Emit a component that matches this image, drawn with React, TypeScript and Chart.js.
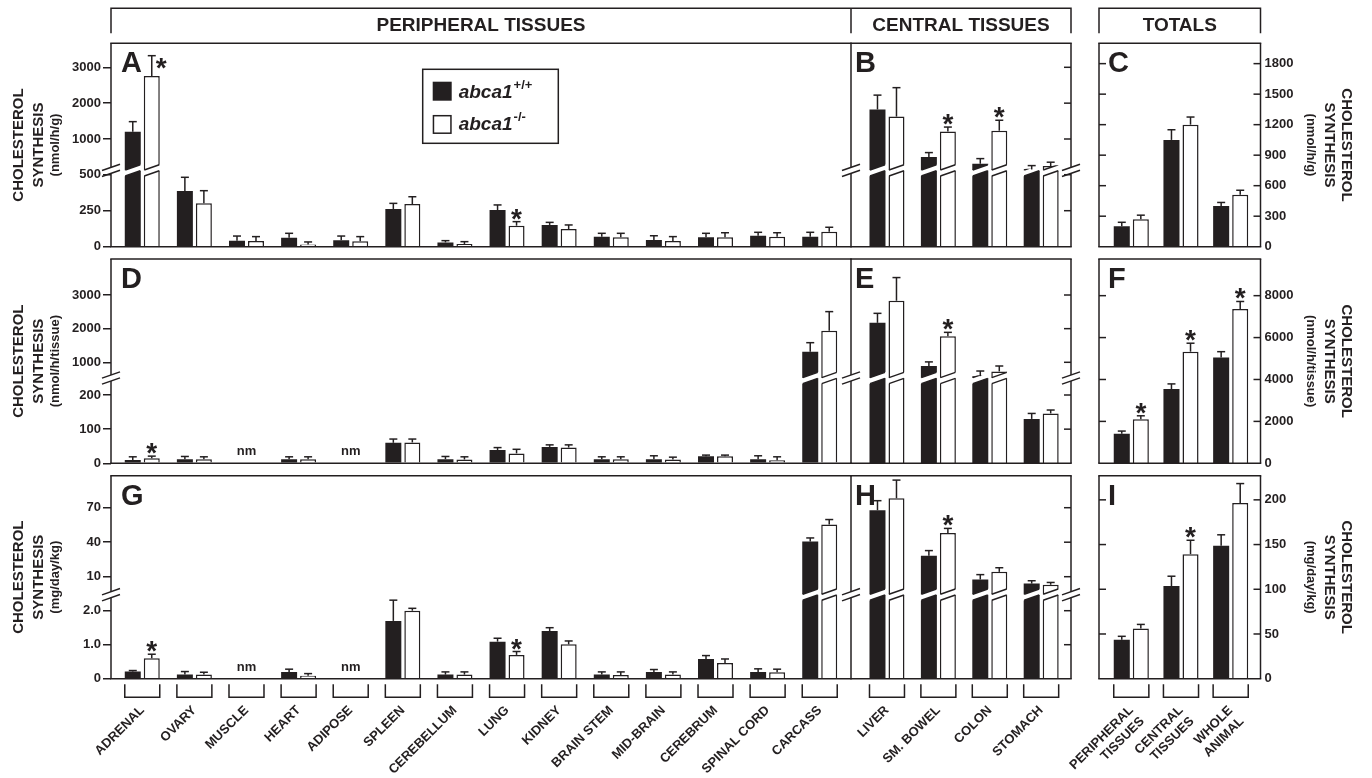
import React, { useEffect, useRef } from 'react';
import { Chart, registerables, LinearScale } from 'chart.js';

Chart.register(...registerables);

// ---------------- categories ----------------
const PERIPHERAL = ['ADRENAL', 'OVARY', 'MUSCLE', 'HEART', 'ADIPOSE', 'SPLEEN', 'CEREBELLUM', 'LUNG', 'KIDNEY', 'BRAIN STEM', 'MID-BRAIN', 'CEREBRUM', 'SPINAL CORD', 'CARCASS'];
const CENTRAL = ['LIVER', 'SM. BOWEL', 'COLON', 'STOMACH'];
const TOTALS = [['PERIPHERAL', 'TISSUES'], ['CENTRAL', 'TISSUES'], ['WHOLE', 'ANIMAL']];

// ---------------- series: nmol/h/g ----------------
const A_WT = [1204, 387, 42, 62, 44, 262, 30, 255, 151, 69, 46, 65, 76, 69];
const A_WT_ERR = [280, 95, 32, 31, 30, 39, 12, 35, 18, 24, 30, 28, 24, 31];
const A_KO = [2757, 301, 40, 16, 37, 296, 19, 146, 123, 65, 40, 65, 69, 104];
const A_KO_ERR = [567, 88, 30, 17, 33, 51, 16, 28, 28, 28, 30, 32, 28, 31];
const B_WT = [1824, 498, 310, 150];
const B_WT_ERR = [400, 123, 143, 108];
const B_KO = [1625, 1210, 1231, 245];
const B_KO_ERR = [807, 123, 292, 108];
const C_WT = [200, 1050, 400];
const C_WT_ERR = [40, 100, 35];
const C_KO = [270, 1200, 510];
const C_KO_ERR = [40, 75, 45];

// ---------------- series: nmol/h/tissue ----------------
const D_WT = [10, 12, null, 12, null, 60, 12, 39, 48, 12, 12, 21, 12, 1315];
const D_WT_ERR = [9, 8, 0, 7, 0, 11, 8, 7, 6, 7, 10, 3, 10, 268];
const D_KO = [15, 12, null, 12, null, 61, 11, 29, 46, 12, 11, 21, 9, 1941];
const D_KO_ERR = [6, 7, 0, 7, 0, 10, 8, 12, 8, 7, 7, 3, 10, 565];
const E_WT = [2173, 890, 589, 130];
const E_WT_ERR = [282, 122, 152, 16];
const E_KO = [2830, 1771, 729, 146];
const E_KO_ERR = [688, 119, 161, 10];
const F_WT = [1408, 3546, 5052];
const F_WT_ERR = [130, 243, 275];
const F_KO = [2105, 5327, 7366];
const F_KO_ERR = [162, 404, 357];

// ---------------- series: mg/day/kg ----------------
const G_WT = [0.21, 0.12, null, 0.2, null, 1.7, 0.12, 1.09, 1.4, 0.12, 0.2, 0.58, 0.2, 40.7];
const G_WT_ERR = [0.03, 0.09, 0, 0.08, 0, 0.61, 0.08, 0.1, 0.1, 0.08, 0.07, 0.1, 0.09, 3];
const G_KO = [0.6, 0.12, null, 0.09, null, 2.0, 0.12, 0.7, 1.01, 0.11, 0.12, 0.46, 0.19, 55.4];
const G_KO_ERR = [0.12, 0.07, 0, 0.06, 0, 0.07, 0.08, 0.1, 0.1, 0.09, 0.08, 0.12, 0.09, 4.3];
const H_WT = [67.8, 28.2, 7.6, 4.0];
const H_WT_ERR = [8.3, 4.5, 4.2, 2.5];
const H_KO = [78.2, 47.9, 14.2, 3.0];
const H_KO_ERR = [15.8, 4.1, 3.6, 2.0];
const I_WT = [43.6, 103.6, 148.8];
const I_WT_ERR = [3.8, 11, 12.1];
const I_KO = [56.2, 139.3, 196.6];
const I_KO_ERR = [4.5, 15.5, 21.6];

// ---------------- tick labels ----------------
const AB_TICKS = [0, 250, 500, 1000, 2000, 3000];
const AB_TICK_LABELS = ['0', '250', '500', '1000', '2000', '3000'];
const DE_TICKS = [0, 100, 200, 1000, 2000, 3000];
const DE_TICK_LABELS = ['0', '100', '200', '1000', '2000', '3000'];
const GH_TICKS = [0, 1, 2, 10, 40, 70];
const GH_TICK_LABELS = ['0', '1.0', '2.0', '10', '40', '70'];
const C_TICKS = [0, 300, 600, 900, 1200, 1500, 1800];
const C_TICK_LABELS = ['0', '300', '600', '900', '1200', '1500', '1800'];
const F_TICKS = [0, 2000, 4000, 6000, 8000];
const F_TICK_LABELS = ['0', '2000', '4000', '6000', '8000'];
const I_TICKS = [0, 50, 100, 150, 200];
const I_TICK_LABELS = ['0', '50', '100', '150', '200'];

// significance stars: [series (0 = +/+, 1 = -/-), category]
const A_STARS = [[1, 7]];
const A_STARS_BESIDE = [[1, 0]];
const B_STARS = [[1, 1], [1, 2]];
const D_STARS = [[1, 0]];
const E_STARS = [[1, 1]];
const F_STARS = [[1, 0], [1, 1], [1, 2]];
const G_STARS = [[1, 0], [1, 7]];
const H_STARS = [[1, 1]];
const I_STARS = [[1, 1]];
const NOT_MEASURED = [2, 4];

// ---------------- styling / layout ----------------
const INK = '#231f20';
const FONT = "'Liberation Sans', Arial, Helvetica, sans-serif";
const W = 1372;
const H = 778;
const ROWS = [{ t: 43.3, b: 246.7 }, { t: 259, b: 463.3 }, { t: 475.7, b: 678.7 }];
const COLS = [{ l: 111, r: 851 }, { l: 851, r: 1071 }, { l: 1099, r: 1260.5 }];
const SL = 0.35;
const GAP = 3;

// broken-axis definitions (pixel heights above the baseline for pairs of values)
type Seg = { v0: number; p0: number; v1: number; p1: number };
type AxisDef = { lo: Seg; hi: Seg; split: number; tickSplit: number; breakP: number };
const AB_AXIS_A: AxisDef = { lo: { v0: 0, p0: 0, v1: 500, p1: 72 }, hi: { v0: 1000, p0: 107.7, v1: 3000, p1: 179.4 }, split: 600, tickSplit: 600, breakP: 76.3 };
const AB_AXIS_B: AxisDef = { ...AB_AXIS_A, split: 100 };
const DE_AXIS: AxisDef = { lo: { v0: 0, p0: 0, v1: 200, p1: 68.3 }, hi: { v0: 1000, p0: 101, v1: 3000, p1: 168.3 }, split: 300, tickSplit: 300, breakP: 85.3 };
const GH_AXIS: AxisDef = { lo: { v0: 0, p0: 0, v1: 2, p1: 68 }, hi: { v0: 10, p0: 102, v1: 70, p1: 171 }, split: 2.5, tickSplit: 2.5, breakP: 84 };

const AXES = new WeakMap<HTMLCanvasElement, AxisDef>();
const segPx = (s: Seg, v: number) => s.p0 + (v - s.v0) * (s.p1 - s.p0) / (s.v1 - s.v0);

class BrokenScale extends LinearScale {
  static id = 'broken';
  static defaults = LinearScale.defaults;
  getPixelForValue(value: any) {
    const def = AXES.get((this as any).chart.canvas);
    if (!def || value === null || value === undefined || isNaN(value)) return super.getPixelForValue(value);
    const seg = value > def.split ? def.hi : def.lo;
    return (this as any).bottom - segPx(seg, value);
  }
  getValueForPixel(pixel: number) {
    const def = AXES.get((this as any).chart.canvas);
    if (!def) return super.getValueForPixel(pixel);
    const p = (this as any).bottom - pixel;
    const seg = p > def.breakP ? def.hi : def.lo;
    return seg.v0 + (p - seg.p0) * (seg.v1 - seg.v0) / (seg.p1 - seg.p0);
  }
}
Chart.register(BrokenScale);

type Panel = {
  key: string; row: number; col: number; letter: string; letterDx: number;
  labels: any[]; wt: (number | null)[]; wtErr: number[]; ko: (number | null)[]; koErr: number[];
  xMin: number; xMax: number; catPct: number;
  yPos: 'left' | 'right' | 'none'; ticks: number[]; tickLabels: string[];
  axis?: AxisDef; yMax: number;
  inTicks: string[]; edges: string[]; brokenEdges: string[];
  stars: number[][]; starBeside?: number[][]; nm: number[];
  title?: { side: 'left' | 'right'; unit: string }; legend?: boolean; header?: boolean; showX: boolean;
};

const PANELS: Panel[] = [
  { key: 'A', row: 0, col: 0, letter: 'A', letterDx: 10, labels: PERIPHERAL, wt: A_WT, wtErr: A_WT_ERR, ko: A_KO, koErr: A_KO_ERR, xMin: -0.6, xMax: 13.6, catPct: 0.729, yPos: 'left', ticks: AB_TICKS, tickLabels: AB_TICK_LABELS, axis: AB_AXIS_A, yMax: 3600, inTicks: [], edges: ['top', 'bottom', 'left'], brokenEdges: ['left'], stars: A_STARS, starBeside: A_STARS_BESIDE, nm: [], title: { side: 'left', unit: '(nmol/h/g)' }, legend: true, header: true, showX: false },
  { key: 'B', row: 0, col: 1, letter: 'B', letterDx: 4, labels: CENTRAL, wt: B_WT, wtErr: B_WT_ERR, ko: B_KO, koErr: B_KO_ERR, xMin: -0.7, xMax: 3.58, catPct: 0.739, yPos: 'none', ticks: AB_TICKS, tickLabels: AB_TICK_LABELS, axis: AB_AXIS_B, yMax: 3600, inTicks: ['right'], edges: ['top', 'bottom', 'left', 'right'], brokenEdges: ['left', 'right'], stars: B_STARS, nm: [], showX: false },
  { key: 'C', row: 0, col: 2, letter: 'C', letterDx: 9, labels: TOTALS, wt: C_WT, wtErr: C_WT_ERR, ko: C_KO, koErr: C_KO_ERR, xMin: -0.65, xMax: 2.6, catPct: 0.767, yPos: 'right', ticks: C_TICKS, tickLabels: C_TICK_LABELS, yMax: 2000, inTicks: ['left', 'right'], edges: ['top', 'bottom', 'left', 'right'], brokenEdges: [], stars: [], nm: [], title: { side: 'right', unit: '(nmol/h/g)' }, showX: false },
  { key: 'D', row: 1, col: 0, letter: 'D', letterDx: 10, labels: PERIPHERAL, wt: D_WT, wtErr: D_WT_ERR, ko: D_KO, koErr: D_KO_ERR, xMin: -0.6, xMax: 13.6, catPct: 0.729, yPos: 'left', ticks: DE_TICKS, tickLabels: DE_TICK_LABELS, axis: DE_AXIS, yMax: 4000, inTicks: [], edges: ['top', 'bottom', 'left'], brokenEdges: ['left'], stars: D_STARS, nm: NOT_MEASURED, title: { side: 'left', unit: '(nmol/h/tissue)' }, showX: false },
  { key: 'E', row: 1, col: 1, letter: 'E', letterDx: 4, labels: CENTRAL, wt: E_WT, wtErr: E_WT_ERR, ko: E_KO, koErr: E_KO_ERR, xMin: -0.7, xMax: 3.58, catPct: 0.739, yPos: 'none', ticks: DE_TICKS, tickLabels: DE_TICK_LABELS, axis: DE_AXIS, yMax: 4000, inTicks: ['right'], edges: ['top', 'bottom', 'left', 'right'], brokenEdges: ['left', 'right'], stars: E_STARS, nm: [], showX: false },
  { key: 'F', row: 1, col: 2, letter: 'F', letterDx: 9, labels: TOTALS, wt: F_WT, wtErr: F_WT_ERR, ko: F_KO, koErr: F_KO_ERR, xMin: -0.65, xMax: 2.6, catPct: 0.767, yPos: 'right', ticks: F_TICKS, tickLabels: F_TICK_LABELS, yMax: 9750, inTicks: ['left', 'right'], edges: ['top', 'bottom', 'left', 'right'], brokenEdges: [], stars: F_STARS, nm: [], title: { side: 'right', unit: '(nmol/h/tissue)' }, showX: false },
  { key: 'G', row: 2, col: 0, letter: 'G', letterDx: 10, labels: PERIPHERAL, wt: G_WT, wtErr: G_WT_ERR, ko: G_KO, koErr: G_KO_ERR, xMin: -0.6, xMax: 13.6, catPct: 0.729, yPos: 'left', ticks: GH_TICKS, tickLabels: GH_TICK_LABELS, axis: GH_AXIS, yMax: 90, inTicks: [], edges: ['top', 'bottom', 'left'], brokenEdges: ['left'], stars: G_STARS, nm: NOT_MEASURED, title: { side: 'left', unit: '(mg/day/kg)' }, showX: true },
  { key: 'H', row: 2, col: 1, letter: 'H', letterDx: 4, labels: CENTRAL, wt: H_WT, wtErr: H_WT_ERR, ko: H_KO, koErr: H_KO_ERR, xMin: -0.7, xMax: 3.58, catPct: 0.739, yPos: 'none', ticks: GH_TICKS, tickLabels: GH_TICK_LABELS, axis: GH_AXIS, yMax: 90, inTicks: ['right'], edges: ['top', 'bottom', 'left', 'right'], brokenEdges: ['left', 'right'], stars: H_STARS, nm: [], showX: true },
  { key: 'I', row: 2, col: 2, letter: 'I', letterDx: 9, labels: TOTALS, wt: I_WT, wtErr: I_WT_ERR, ko: I_KO, koErr: I_KO_ERR, xMin: -0.65, xMax: 2.6, catPct: 0.767, yPos: 'right', ticks: I_TICKS, tickLabels: I_TICK_LABELS, yMax: 227, inTicks: ['left', 'right'], edges: ['top', 'bottom', 'left', 'right'], brokenEdges: [], stars: I_STARS, nm: [], title: { side: 'right', unit: '(mg/day/kg)' }, showX: true },
];

function line(ctx: CanvasRenderingContext2D, x0: number, y0: number, x1: number, y1: number) {
  ctx.beginPath();
  ctx.moveTo(x0, y0);
  ctx.lineTo(x1, y1);
  ctx.stroke();
}

function drawStar(ctx: CanvasRenderingContext2D, x: number, baseline: number, align: CanvasTextAlign) {
  ctx.font = `bold 28px ${FONT}`;
  ctx.textAlign = align;
  ctx.textBaseline = 'alphabetic';
  ctx.fillText('*', x, baseline);
}

function makeDecor(p: Panel) {
  return {
    id: 'decor' + p.key,
    afterDatasetsDraw(chart: any) {
      const ctx: CanvasRenderingContext2D = chart.ctx;
      const area = chart.chartArea;
      const ys = chart.scales.y;
      const xs = chart.scales.x;
      const def = p.axis;
      const vals = [p.wt, p.ko];
      const errs = [p.wtErr, p.koErr];
      const metas = [chart.getDatasetMeta(0), chart.getDatasetMeta(1)];
      const tickPx = (v: number) => {
        if (!def) return ys.getPixelForValue(v);
        return area.bottom - segPx(v > def.tickSplit ? def.hi : def.lo, v);
      };
      ctx.save();
      ctx.strokeStyle = INK;
      ctx.fillStyle = INK;
      ctx.lineWidth = 1.5;

      // gaps through bars that cross the axis break
      if (def) {
        const yb = area.bottom - def.breakP;
        metas.forEach((m: any, d: number) => m.data.forEach((el: any, i: number) => {
          if (vals[d][i] == null) return;
          if (el.y > yb + GAP + 3) return;
          const half = el.width / 2;
          ctx.save();
          ctx.beginPath();
          ctx.rect(el.x - half - 1, el.y - 0.8, 2 * half + 2, area.bottom - el.y);
          ctx.clip();
          const x0 = el.x - half - 1;
          const x1 = el.x + half + 1;
          ctx.beginPath();
          ctx.moveTo(x0, yb - GAP - SL * (x0 - el.x));
          ctx.lineTo(x1, yb - GAP - SL * (x1 - el.x));
          ctx.lineTo(x1, yb + GAP - SL * (x1 - el.x));
          ctx.lineTo(x0, yb + GAP - SL * (x0 - el.x));
          ctx.closePath();
          ctx.fillStyle = '#ffffff';
          ctx.fill();
          const a = el.x - half + 0.5;
          const b = el.x + half - 0.5;
          line(ctx, a, yb - GAP - SL * (a - el.x), b, yb - GAP - SL * (b - el.x));
          line(ctx, a, yb + GAP - SL * (a - el.x), b, yb + GAP - SL * (b - el.x));
          ctx.restore();
        }));
      }
      ctx.fillStyle = INK;

      // error bars
      const capY: number[][] = [[], []];
      metas.forEach((m: any, d: number) => m.data.forEach((el: any, i: number) => {
        const v = vals[d][i];
        const e = errs[d][i];
        if (v == null) return;
        const y1 = ys.getPixelForValue(v + e);
        capY[d][i] = y1;
        if (!e) return;
        line(ctx, el.x, el.y, el.x, y1);
        line(ctx, el.x - 4, y1, el.x + 4, y1);
      }));

      // stars
      p.stars.forEach(([d, i]) => {
        const el = metas[d].data[i];
        drawStar(ctx, el.x, capY[d][i] + 6, 'center');
      });
      (p.starBeside || []).forEach(([d, i]) => {
        const el = metas[d].data[i];
        drawStar(ctx, el.x + 4, capY[d][i] + 21, 'left');
      });

      // not measured
      ctx.font = `bold 13px ${FONT}`;
      ctx.textAlign = 'center';
      ctx.textBaseline = 'alphabetic';
      p.nm.forEach((i) => ctx.fillText('nm', xs.getPixelForValue(i), area.bottom - 8));

      // frame with breaks
      const yb = def ? area.bottom - def.breakP : 0;
      if (p.edges.includes('top')) line(ctx, area.left - 0.75, area.top, area.right + 0.75, area.top);
      if (p.edges.includes('bottom')) line(ctx, area.left - 0.75, area.bottom, area.right + 0.75, area.bottom);
      (['left', 'right'] as const).forEach((side) => {
        if (!p.edges.includes(side)) return;
        const x = side === 'left' ? area.left : area.right;
        if (def && p.brokenEdges.includes(side)) {
          line(ctx, x, area.top, x, yb - GAP);
          line(ctx, x, yb + GAP, x, area.bottom);
          line(ctx, x - 9, yb - GAP + SL * 9, x + 9, yb - GAP - SL * 9);
          line(ctx, x - 9, yb + GAP + SL * 9, x + 9, yb + GAP - SL * 9);
        } else {
          line(ctx, x, area.top, x, area.bottom);
        }
      });

      // inward ticks
      p.inTicks.forEach((side) => {
        const x = side === 'left' ? area.left : area.right;
        const dir = side === 'left' ? 1 : -1;
        p.ticks.forEach((v) => {
          if (v === 0) return;
          const y = tickPx(v);
          line(ctx, x, y, x + dir * 7, y);
        });
      });

      // panel letter
      ctx.font = `bold 29px ${FONT}`;
      ctx.textAlign = 'left';
      ctx.textBaseline = 'alphabetic';
      ctx.fillText(p.letter, area.left + p.letterDx, area.top + 29);

      // x-axis brackets
      if (p.showX) {
        p.labels.forEach((_: any, i: number) => {
          const e0 = metas[0].data[i];
          const e1 = metas[1].data[i];
          const x0 = e0.x - e0.width / 2;
          const x1 = e1.x + e1.width / 2;
          const yt = area.bottom + 5.5;
          const ybm = area.bottom + 18.5;
          ctx.beginPath();
          ctx.moveTo(x0, yt);
          ctx.lineTo(x0, ybm);
          ctx.lineTo(x1, ybm);
          ctx.lineTo(x1, yt);
          ctx.stroke();
        });
      }

      // legend
      if (p.legend) {
        const bx = area.left + 311.7;
        const by = area.top + 26;
        ctx.strokeRect(bx, by, 135.6, 74);
        ctx.fillRect(bx + 10, by + 12.4, 19, 19);
        ctx.strokeRect(bx + 10.75, by + 46.4, 17.5, 17.5);
        const entries = [['+/+', by + 29], ['-/-', by + 61]];
        entries.forEach(([sup, y]: any) => {
          ctx.font = `italic bold 19px ${FONT}`;
          ctx.textAlign = 'left';
          ctx.fillText('abca1', bx + 36, y);
          const w = ctx.measureText('abca1').width;
          ctx.font = `bold 13px ${FONT}`;
          ctx.fillText(sup, bx + 36 + w + 1, y - 9);
        });
      }

      // axis titles
      if (p.title) {
        const cy = (area.top + area.bottom) / 2;
        const lines: [string, number, number][] = p.title.side === 'left'
          ? [['CHOLESTEROL', 15, 19], ['SYNTHESIS', 15, 39], [p.title.unit, 13, 55]]
          : [['CHOLESTEROL', 15, 1346], ['SYNTHESIS', 15, 1329], [p.title.unit, 13, 1311]];
        lines.forEach(([t, size, x]) => {
          ctx.save();
          ctx.translate(x, cy);
          ctx.rotate(p.title!.side === 'left' ? -Math.PI / 2 : Math.PI / 2);
          ctx.font = `bold ${size}px ${FONT}`;
          ctx.textAlign = 'center';
          ctx.textBaseline = 'middle';
          ctx.fillText(t, 0, 0);
          ctx.restore();
        });
      }

      // group headers
      if (p.header) {
        const yT = 8.3;
        const yD = 33.3;
        ctx.beginPath();
        ctx.moveTo(COLS[0].l, yD); ctx.lineTo(COLS[0].l, yT); ctx.lineTo(COLS[1].r, yT); ctx.lineTo(COLS[1].r, yD);
        ctx.moveTo(COLS[0].r, yT); ctx.lineTo(COLS[0].r, yD);
        ctx.moveTo(COLS[2].l, yD); ctx.lineTo(COLS[2].l, yT); ctx.lineTo(COLS[2].r, yT); ctx.lineTo(COLS[2].r, yD);
        ctx.stroke();
        ctx.font = `bold 19px ${FONT}`;
        ctx.textAlign = 'center';
        ctx.textBaseline = 'alphabetic';
        ctx.fillText('PERIPHERAL TISSUES', (COLS[0].l + COLS[0].r) / 2, 31);
        ctx.fillText('CENTRAL TISSUES', (COLS[1].l + COLS[1].r) / 2, 31);
        ctx.fillText('TOTALS', (COLS[2].l + COLS[2].r) / 2, 31);
      }
      ctx.restore();
    },
  };
}

function buildChart(canvas: HTMLCanvasElement, p: Panel) {
  if (p.axis) AXES.set(canvas, p.axis);
  const row = ROWS[p.row];
  const col = COLS[p.col];
  const yW = p.yPos === 'left' ? col.l : p.yPos === 'right' ? W - col.r : 0;
  const xH = H - row.b;
  const padding = {
    left: p.yPos === 'left' ? 0 : col.l,
    right: p.yPos === 'right' ? 0 : W - col.r,
    top: row.t,
    bottom: p.showX ? 0 : H - row.b,
  };
  const font = { family: FONT, weight: 'bold' as const, size: 13 };
  return new Chart(canvas, {
    type: 'bar',
    data: {
      datasets: [
        {
          label: 'abca1+/+',
          data: p.wt.map((v, i) => ({ x: i, y: v })) as any,
          backgroundColor: INK,
          borderWidth: 0,
          categoryPercentage: p.catPct,
          barPercentage: 0.842,
        },
        {
          label: 'abca1-/-',
          data: p.ko.map((v, i) => ({ x: i, y: v })) as any,
          backgroundColor: '#ffffff',
          borderColor: INK,
          borderWidth: 1.5,
          borderSkipped: 'start',
          categoryPercentage: p.catPct,
          barPercentage: 0.842,
        },
      ],
    },
    options: {
      responsive: false,
      animation: false,
      events: [],
      layout: { padding, autoPadding: false },
      plugins: { legend: { display: false }, tooltip: { enabled: false } },
      scales: {
        x: {
          type: 'linear',
          min: p.xMin,
          max: p.xMax,
          offset: false,
          display: p.showX,
          grid: { display: false, drawTicks: false },
          border: { display: false },
          afterBuildTicks: (s: any) => { s.ticks = p.labels.map((_: any, i: number) => ({ value: i })); },
          afterFit: (s: any) => { s.height = p.showX ? xH : 0; },
          ticks: {
            autoSkip: false,
            minRotation: 45,
            maxRotation: 45,
            padding: 24,
            color: INK,
            font,
            callback: (_v: any, i: number) => p.labels[i],
          },
        },
        y: {
          type: p.axis ? 'broken' : 'linear',
          position: p.yPos === 'right' ? 'right' : 'left',
          display: p.yPos !== 'none',
          min: 0,
          max: p.yMax,
          afterBuildTicks: (s: any) => { s.ticks = p.ticks.map((v) => ({ value: v })); },
          afterFit: (s: any) => { s.width = yW; },
          grid: p.yPos === 'left'
            ? { display: true, drawOnChartArea: false, drawTicks: true, tickLength: 8, color: INK, lineWidth: 1.5 }
            : { display: false, drawTicks: false },
          border: { display: false },
          ticks: {
            autoSkip: false,
            padding: p.yPos === 'left' ? 2 : 4,
            color: INK,
            font,
            callback: (_v: any, i: number) => p.tickLabels[i],
          },
        } as any,
      },
    } as any,
    plugins: [makeDecor(p)],
  });
}

export default function App() {
  const refs = useRef<(HTMLCanvasElement | null)[]>([]);
  useEffect(() => {
    const charts = PANELS.map((p, i) => buildChart(refs.current[i] as HTMLCanvasElement, p));
    return () => charts.forEach((c) => c.destroy());
  }, []);
  return (
    <div style={{ position: 'absolute', left: 0, top: 0, width: W, height: H, background: '#ffffff', overflow: 'hidden' }}>
      {PANELS.map((p, i) => (
        <canvas
          key={p.key}
          ref={(el) => { refs.current[i] = el; }}
          width={W}
          height={H}
          style={{ position: 'absolute', left: 0, top: 0, width: W, height: H }}
        />
      ))}
    </div>
  );
}
